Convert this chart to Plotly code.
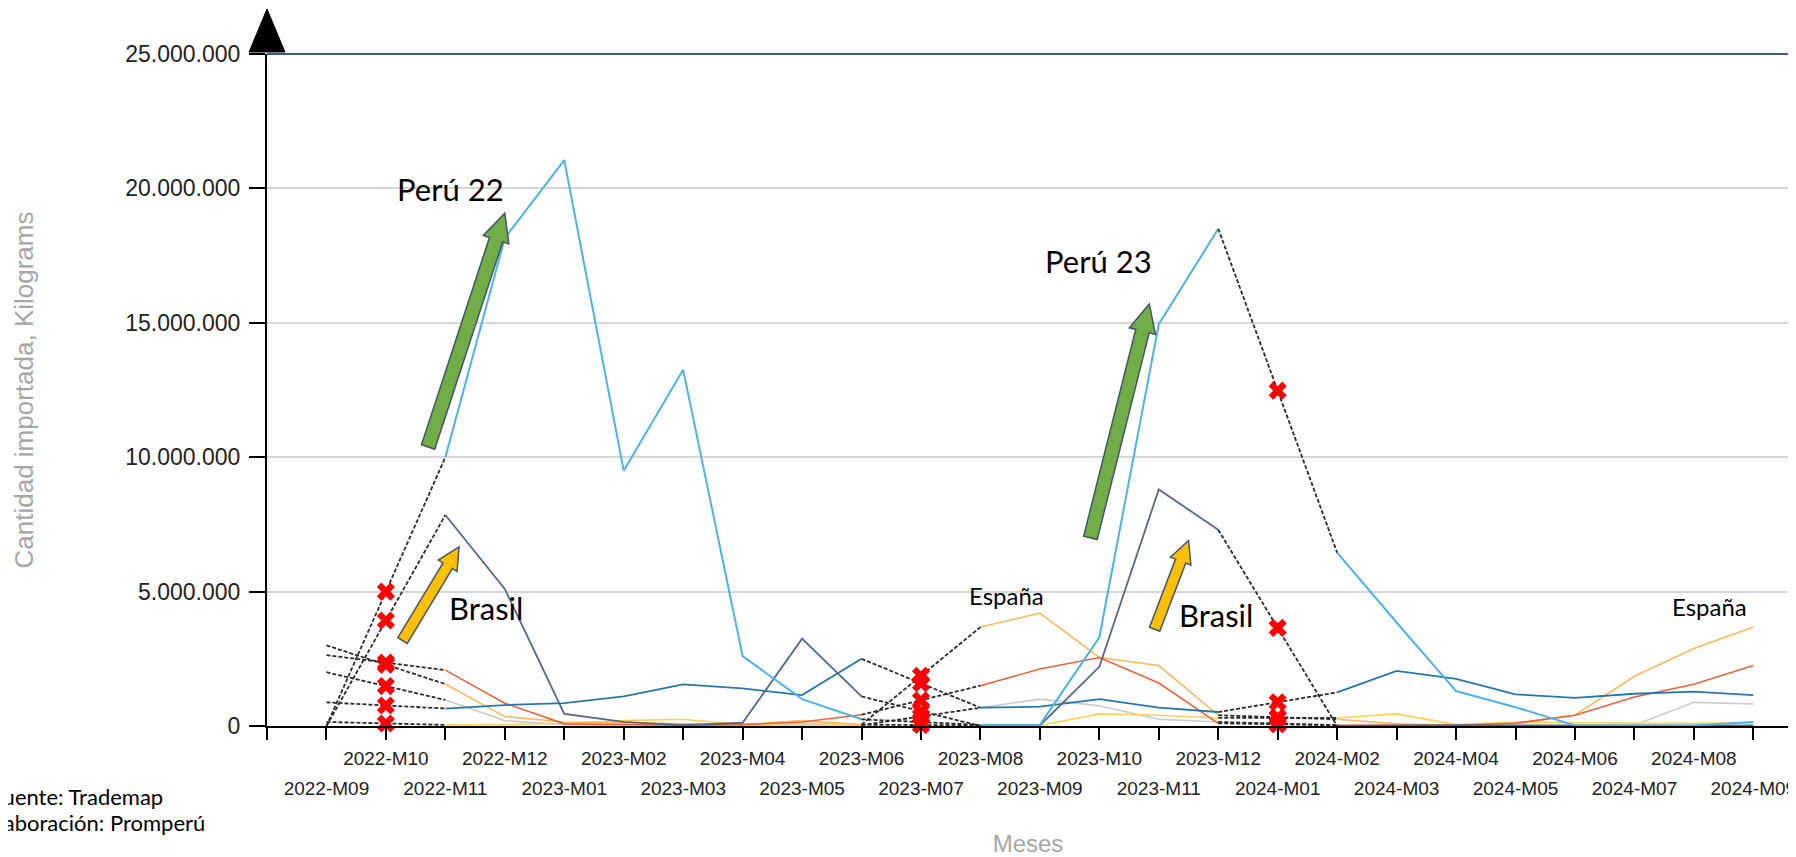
import math
import plotly.graph_objects as go

# months on the category axis (2022-M10, 2023-M07 and 2024-M01 have no data)
months = [
    "2022-M09", "2022-M10", "2022-M11", "2022-M12",
    "2023-M01", "2023-M02", "2023-M03", "2023-M04", "2023-M05", "2023-M06",
    "2023-M07", "2023-M08", "2023-M09", "2023-M10", "2023-M11", "2023-M12",
    "2024-M01", "2024-M02", "2024-M03", "2024-M04", "2024-M05", "2024-M06",
    "2024-M07", "2024-M08", "2024-M09",
]

# imported quantity, millions of kg
peru = [0.0, None, 10.0, 18.15, 21.05, 9.5, 13.25, 2.6, 1.0, 0.25, None, 0.04, 0.04,
        3.3, 14.95, 18.5, None, 6.45, 3.85, 1.3, 0.7, 0.02, 0.02, 0.02, 0.15]
brasil = [0.0, None, 7.85, 5.1, 0.45, 0.15, 0.03, 0.12, 3.25, 1.1, None, 0.0, 0.02,
          2.2, 8.8, 7.3, None, 0.0, 0.02, 0.03, 0.02, 0.01, 0.01, 0.01, 0.02]
serie_teal = [0.88, None, 0.65, 0.78, 0.85, 1.1, 1.55, 1.4, 1.15, 2.5, None, 0.68, 0.72,
              1.0, 0.68, 0.52, None, 1.25, 2.05, 1.75, 1.18, 1.05, 1.2, 1.28, 1.15]
serie_roja = [2.64, None, 2.08, 0.85, 0.08, 0.05, 0.03, 0.05, 0.15, 0.42, None, 1.5, 2.12,
              2.55, 1.6, 0.1, None, 0.03, 0.02, 0.03, 0.1, 0.4, 1.08, 1.55, 2.25]
espana = [3.0, None, 1.56, 0.35, 0.15, 0.12, 0.1, 0.05, 0.2, 0.05, None, 3.68, 4.2,
          2.55, 2.25, 0.4, None, 0.25, 0.08, 0.03, 0.1, 0.4, 1.85, 2.88, 3.68]
serie_gris = [2.0, None, 0.97, 0.2, 0.05, 0.03, 0.02, 0.02, 0.05, 0.03, None, 0.68, 1.0,
              0.75, 0.25, 0.15, None, 0.03, 0.02, 0.02, 0.02, 0.02, 0.03, 0.88, 0.82]
serie_amarilla = [0.15, None, 0.04, 0.05, 0.1, 0.2, 0.25, 0.05, 0.1, 0.05, None, 0.02, 0.02,
                  0.45, 0.4, 0.3, None, 0.3, 0.45, 0.05, 0.15, 0.12, 0.1, 0.1, 0.12]

y_ticks = [0, 5_000_000, 10_000_000, 15_000_000, 20_000_000, 25_000_000]

series = [
    ("Gris", serie_gris, "#cbcbcb", 1.6),
    ("Amarilla", serie_amarilla, "#ffd34f", 1.6),
    ("España", espana, "#fbb95f", 1.6),
    ("Roja", serie_roja, "#e8643c", 1.6),
    ("Teal", serie_teal, "#2676aa", 1.8),
    ("Brasil", brasil, "#56688a", 1.8),
    ("Perú", peru, "#4fb2e6", 2.0),
]

# the page puts an 8px body margin around the figure
OFF = 8
W, H = 1796, 857
ML, MR, MT, MB = 267 - OFF, OFF, 54 - OFF, H - (726 - OFF)
X_RANGE = [-1, 24.6]
Y_MAX = 25_000_000
PW, PH = W - ML - MR, H - MT - MB
SX = PW / (X_RANGE[1] - X_RANGE[0])
SY = PH / Y_MAX

x = list(range(len(months)))
fig = go.Figure()

for name, vals, color, w in series:
    fig.add_trace(go.Scatter(
        x=x, y=[None if v is None else v * 1e6 for v in vals],
        mode="lines", name=name, line=dict(color=color, width=w),
        connectgaps=False, showlegend=False,
    ))

# dashed bridges over the missing months and red crosses at their middle
gap_x, gap_y, cross_x, cross_y = [], [], [], []
for name, vals, color, w in series:
    for i in range(1, len(vals) - 1):
        if vals[i] is None:
            a, b = vals[i - 1] * 1e6, vals[i + 1] * 1e6
            gap_x += [i - 1, i + 1, None]
            gap_y += [a, b, None]
            cross_x.append(i)
            cross_y.append((a + b) / 2)

fig.add_trace(go.Scatter(
    x=gap_x, y=gap_y, mode="lines", showlegend=False,
    line=dict(color="#2b2b2b", width=1.8, dash="4px,2px"),
))
fig.add_trace(go.Scatter(
    x=cross_x, y=cross_y, mode="markers", showlegend=False, xaxis="x2",
    marker=dict(symbol="x", size=16, color="#ff0000", line=dict(width=0)),
    cliponaxis=False,
))


def arrow_path(tail, tip, shaft, head, head_len):
    x0, y0 = tail[0] * SX, tail[1] * SY
    x1, y1 = tip[0] * SX, tip[1] * SY
    length = math.hypot(x1 - x0, y1 - y0)
    ux, uy = (x1 - x0) / length, (y1 - y0) / length
    nx, ny = -uy, ux
    bx, by = x1 - ux * head_len, y1 - uy * head_len
    pts = [
        (x0 + nx * shaft / 2, y0 + ny * shaft / 2),
        (bx + nx * shaft / 2, by + ny * shaft / 2),
        (bx + nx * head / 2, by + ny * head / 2),
        (x1, y1),
        (bx - nx * head / 2, by - ny * head / 2),
        (bx - nx * shaft / 2, by - ny * shaft / 2),
        (x0 - nx * shaft / 2, y0 - ny * shaft / 2),
    ]
    return "M " + " L ".join(f"{px / SX},{py / SY}" for px, py in pts) + " Z"


arrows = [
    ((1.71, 10.38e6), (3.0, 19.08e6), 14, 27, 28, "#70ad47"),
    ((12.85, 7.0e6), (13.84, 15.7e6), 14, 27, 28, "#70ad47"),
    ((1.28, 3.18e6), (2.23, 6.66e6), 11, 22, 22, "#ffc000"),
    ((13.93, 3.6e6), (14.5, 6.9e6), 11, 22, 22, "#ffc000"),
]
shapes = []
for tail, tip, shaft, head, hl, fill in arrows:
    shapes.append(dict(type="path", xref="x", yref="y", path=arrow_path(tail, tip, shaft, head, hl),
                       fillcolor=fill, line=dict(color="#44546a", width=1.5), layer="above"))

# dark top line and arrow head of the y axis
shapes.append(dict(type="line", xref="paper", yref="paper", x0=0, x1=1, y0=1, y1=1,
                   line=dict(color="#3f5b87", width=2)))
hw = 18 / PW
tip_y = (PH + MT - (9 - OFF)) / PH
base_y = (PH + MT - (52 - OFF)) / PH
shapes.append(dict(type="path", xref="paper", yref="paper",
                   path=f"M {-hw},{base_y} L 0,{tip_y} L {hw},{base_y} Z",
                   fillcolor="black", line=dict(color="black", width=1)))

labels = [
    ("Perú 22", 2.09, 19.98e6, 31),
    ("Perú 23", 12.98, 17.3e6, 31),
    ("Brasil", 2.69, 4.39e6, 31),
    ("Brasil", 14.97, 4.13e6, 31),
    ("España", 11.43, 4.84e6, 24),
    ("España", 23.27, 4.43e6, 24),
]
annotations = [
    dict(text=t, x=ax, y=ay, xref="x", yref="y", showarrow=False,
         font=dict(family="Lato", size=s, color="black"))
    for t, ax, ay, s in labels
]
# source note, cut by the left edge as in the original
for txt, px, py in [("Fuente: Trademap", -12, 796), ("Elaboración: Promperú", -17, 822)]:
    annotations.append(dict(
        text=txt, xref="paper", yref="paper", x=(px - OFF - ML) / PW,
        y=(H - MB - (py - OFF)) / PH, xanchor="left", yanchor="middle",
        showarrow=False, font=dict(family="Lato", size=22, color="black"),
    ))

tick_font = dict(family="Liberation Sans", size=19, color="#222222")

fig.update_layout(
    width=W, height=H,
    margin=dict(l=ML, r=MR, t=MT, b=MB),
    paper_bgcolor="white", plot_bgcolor="white",
    separators=",.",
    showlegend=False,
    shapes=shapes,
    annotations=annotations,
    xaxis=dict(
        range=X_RANGE, tickmode="array",
        tickvals=[-1] + x,
        ticktext=[""] + [m if i % 2 == 1 else "" for i, m in enumerate(months)],
        ticks="outside", ticklen=12, tickwidth=1.5, tickcolor="black",
        showline=True, linecolor="black", linewidth=2,
        showgrid=False, zeroline=False, tickfont=tick_font,
        ticklabelstandoff=2, ticklabeloverflow="allow",
    ),
    xaxis2=dict(
        overlaying="x", anchor="y", side="bottom", range=X_RANGE,
        tickmode="array", tickvals=x,
        ticktext=[m if i % 2 == 0 else "" for i, m in enumerate(months)],
        ticks="", showline=False, showgrid=False, zeroline=False,
        tickfont=tick_font, ticklabelstandoff=49, ticklabeloverflow="allow",
        title=dict(text="Meses", font=dict(family="Liberation Sans", size=24, color="#a6a6a6"),
                   standoff=37),
    ),
    yaxis=dict(
        range=[0, Y_MAX], tickmode="array", tickvals=y_ticks, tickformat=",d",
        ticks="outside", ticklen=16, tickwidth=1.5, tickcolor="black",
        showline=True, linecolor="black", linewidth=2,
        showgrid=True, gridcolor="#d6d6d6", gridwidth=1.5, zeroline=False,
        tickfont=dict(family="Liberation Sans", size=23, color="#222222"),
        ticklabelstandoff=4,
        title=dict(text="Cantidad importada, Kilograms",
                   font=dict(family="Liberation Sans", size=26, color="#a6a6a6"),
                   standoff=84),
    ),
)

fig.write_html("out.html")
